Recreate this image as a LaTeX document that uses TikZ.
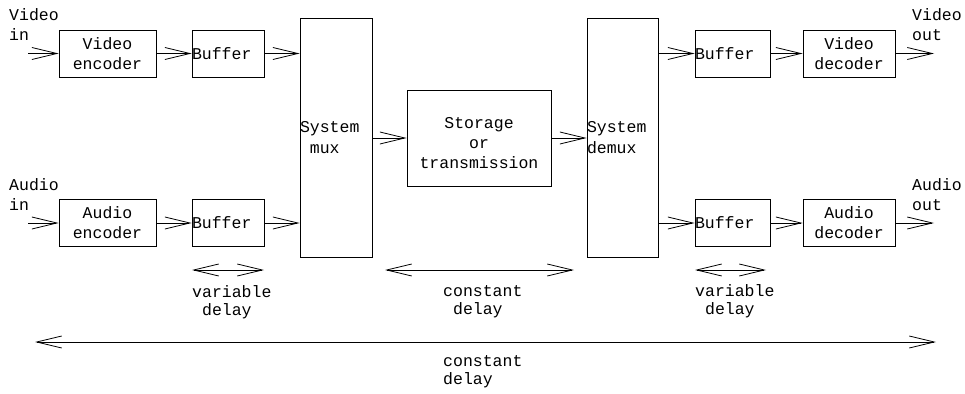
\documentclass[tikz,border=0pt]{standalone}
\usepackage{fontspec}
\setmainfont{Liberation Mono}
\usetikzlibrary{arrows.meta}
\begin{document}
\begin{tikzpicture}[x=1pt,y=-1pt,
  every node/.style={font=\fontsize{16.5}{20}\selectfont},
  blk/.style={draw, line width=0.8pt, inner sep=0pt, align=center},
  lblk/.style={blk, align=left},
  lab/.style={inner sep=0pt, align=left},
  dlab/.style={inner sep=0pt, align=left, font=\fontsize{16.5}{18}\selectfont},
  barb/.tip={Straight Barb[length=25pt,width=12pt,line width=0.8pt]},
  arr/.style={line width=0.8pt, -{barb}},
  darr/.style={line width=0.8pt, {barb}-{barb}}]
\useasboundingbox (0,0) rectangle (965,393);
% boxes
\node[blk, minimum width=97pt, minimum height=47pt] (venc) at (107.5,53.5) {Video\\encoder};
\node[lblk, text width=72pt, minimum height=47pt] (vbuf) at (228,53.5) {Buffer};
\node[blk, minimum width=97pt, minimum height=47pt] (aenc) at (107.5,223) {Audio\\encoder};
\node[lblk, text width=72pt, minimum height=47pt] (abuf) at (228,223) {Buffer};
\node[lblk, text width=72pt, minimum height=239pt, font=\fontsize{16.5}{21}\selectfont] (mux) at (336,137.5) {System\\\phantom{m}mux};
\node[blk, minimum width=144pt, minimum height=96pt,
  label={[name=stolab, align=center, inner sep=0pt, yshift=-5pt]center:Storage\\or\\transmission}] (sto) at (479,138) {};
\node[lblk, text width=71pt, minimum height=239pt, font=\fontsize{16.5}{21}\selectfont] (demux) at (622.5,137.5) {System\\demux};
\node[lblk, text width=75pt, minimum height=47pt] (rvbuf) at (732.5,53.5) {Buffer};
\node[blk, minimum width=92pt, minimum height=47pt] (vdec) at (849,53.5) {Video\\decoder};
\node[lblk, text width=75pt, minimum height=47pt] (rabuf) at (732.5,223) {Buffer};
\node[blk, minimum width=92pt, minimum height=47pt] (adec) at (849,223) {Audio\\decoder};
% io labels
\node[lab, anchor=west] (vin) at (9,25) {Video\\in};
\node[lab, anchor=west] (ain) at (9,195) {Audio\\in};
\node[lab, anchor=west] (vout) at (912,25) {Video\\out};
\node[lab, anchor=west] (aout) at (912,195) {Audio\\out};
% io coordinates
\coordinate (vinS) at (28,53.5);
\coordinate (ainS) at (28,223);
\coordinate (voutE) at (934,53.5);
\coordinate (aoutE) at (934,223);
% connectors
\draw[arr] (vinS) -- (venc.west);
\draw[arr] (venc.east) -- (vbuf.west);
\draw[arr] (vbuf.east) -- (vbuf.east -| mux.west);
\draw[arr] (ainS) -- (aenc.west);
\draw[arr] (aenc.east) -- (abuf.west);
\draw[arr] (abuf.east) -- (abuf.east -| mux.west);
\draw[arr] (mux.east |- sto.west) -- (sto.west);
\draw[arr] (sto.east) -- (sto.east -| demux.west);
\draw[arr] (rvbuf.west -| demux.east) -- (rvbuf.west);
\draw[arr] (rvbuf.east) -- (vdec.west);
\draw[arr] (vdec.east) -- (voutE);
\draw[arr] (rabuf.west -| demux.east) -- (rabuf.west);
\draw[arr] (rabuf.east) -- (adec.west);
\draw[arr] (adec.east) -- (aoutE);
% delay arrows
\coordinate (lvdA) at (192,270); \coordinate (lvdB) at (264,270);
\coordinate (cdA) at (385,270); \coordinate (cdB) at (574,270);
\coordinate (rvdA) at (695,270); \coordinate (rvdB) at (766,270);
\coordinate (bcdA) at (35,342); \coordinate (bcdB) at (936,342);
\draw[darr] (lvdA) -- (lvdB);
\draw[darr] (cdA) -- (cdB);
\draw[darr] (rvdA) -- (rvdB);
\draw[darr] (bcdA) -- (bcdB);
\node[dlab, anchor=west] (lvd) at (192,302) {variable\\\phantom{x}delay};
\node[dlab, anchor=west] (cd) at (443,302) {constant\\\phantom{x}delay};
\node[dlab, anchor=west] (rvd) at (695,301) {variable\\\phantom{x}delay};
\node[dlab, anchor=west] (bcd) at (443,372) {constant\\delay};
\end{tikzpicture}
\end{document}
